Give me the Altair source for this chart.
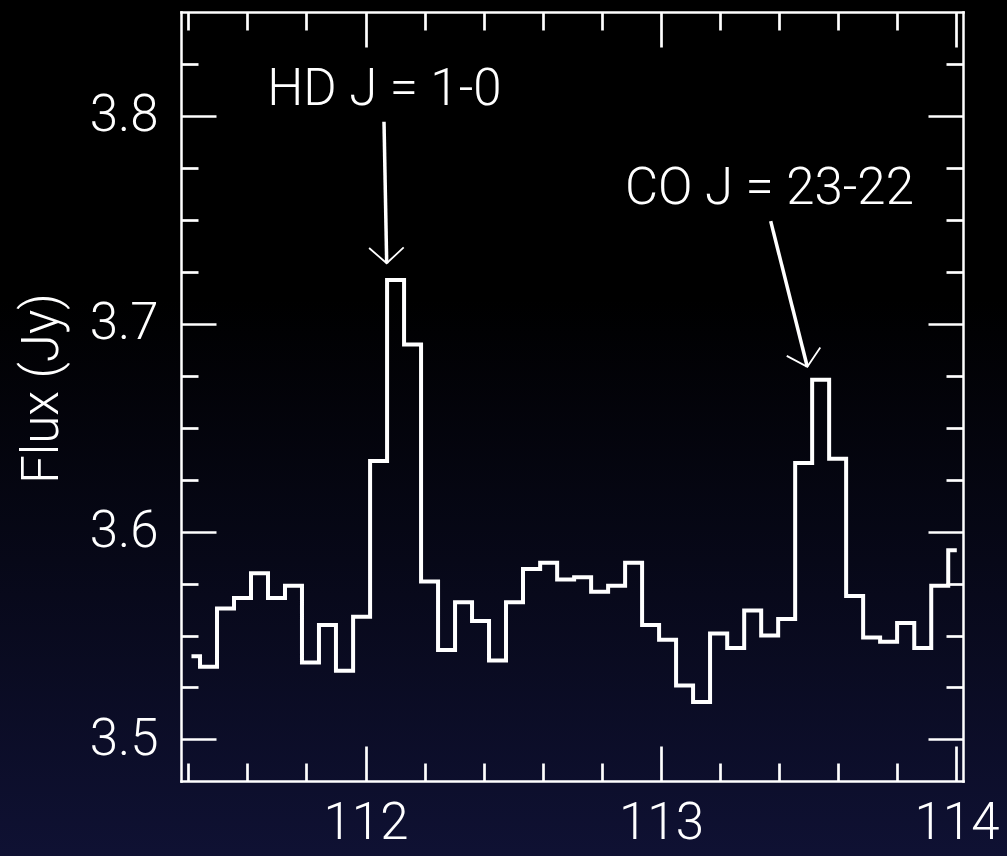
import altair as alt
import pandas as pd

# Spectrum: bin-centre wavelength (micron) and flux density (Jy)
wavelength = [
    111.411, 111.469, 111.526, 111.584, 111.641, 111.699, 111.756, 111.814,
    111.871, 111.929, 111.987, 112.044, 112.102, 112.159, 112.217, 112.274,
    112.332, 112.389, 112.447, 112.504, 112.562, 112.620, 112.677, 112.735,
    112.792, 112.850, 112.907, 112.965, 113.022, 113.080, 113.137, 113.195,
    113.253, 113.310, 113.368, 113.425, 113.483, 113.540, 113.598, 113.655,
    113.713, 113.770, 113.828, 113.886, 113.943, 114.001,
]
flux = [
    3.540, 3.535, 3.563, 3.568, 3.580, 3.568, 3.574, 3.537,
    3.555, 3.533, 3.559, 3.634, 3.721, 3.690, 3.576, 3.543,
    3.566, 3.557, 3.538, 3.566, 3.582, 3.585, 3.577, 3.578,
    3.571, 3.574, 3.585, 3.555, 3.548, 3.526, 3.518, 3.551,
    3.544, 3.562, 3.550, 3.558, 3.633, 3.673, 3.635, 3.569,
    3.549, 3.547, 3.556, 3.544, 3.574, 3.591,
]

# Line identifications with arrows
line_labels = ["HD J = 1-0", "CO J = 23-22"]
label_wl = [112.064, 113.367]
label_flux = [3.8052, 3.7575]
tail_wl = [112.0626, 113.3712]
tail_flux = [3.7972, 3.7494]
tip_wl = [112.0717, 113.4951]
tip_flux = [3.7291, 3.6793]
head_angle = [358.9, 345.9]

x_ticks = [111.4, 111.6, 111.8, 112.0, 112.2, 112.4, 112.6, 112.8, 113.0,
           113.2, 113.4, 113.6, 113.8, 114.0]
y_ticks = [3.5, 3.525, 3.55, 3.575, 3.6, 3.625, 3.65, 3.675, 3.7, 3.725,
           3.75, 3.775, 3.8, 3.825]
x_labels = [112, 113, 114]
y_labels = [3.5, 3.6, 3.7, 3.8]

W, H = 782, 769
PAD = {"left": 181, "top": 12, "right": 44, "bottom": 75}
FONT = "Roboto"
FW = 300
FS = 51

spec = pd.DataFrame({"wavelength": wavelength, "flux": flux})
notes = pd.DataFrame({
    "label": line_labels, "lx": label_wl, "ly": label_flux,
    "tx": tail_wl, "ty": tail_flux, "hx": tip_wl, "hy": tip_flux,
    "angle": head_angle,
})

xs = alt.Scale(domain=[111.3756, 114.022], nice=False, zero=False)
ys = alt.Scale(domain=[3.48, 3.85], nice=False, zero=False)

x_major = {"condition": {"test": "abs(datum.value - round(datum.value)) < 0.001", "value": 35}, "value": 18}
y_major = {"condition": {"test": "abs(datum.value * 10 - round(datum.value * 10)) < 0.001", "value": 35}, "value": 17}

frame = dict(domainColor="white", domainWidth=2.5, domainCap="square",
             tickColor="white", tickWidth=2.7, labels=False, title=None,
             grid=False, zindex=2)

# frame sides: ticks point inward from each edge
x_frame_bottom = alt.Axis(orient="top", offset=-H, values=x_ticks, tickSize=x_major, **frame)
x_frame_top = alt.Axis(orient="bottom", offset=-H, values=x_ticks, tickSize=x_major, **frame)
y_frame_left = alt.Axis(orient="right", offset=-W, values=y_ticks, tickSize=y_major, **frame)
y_frame_right = alt.Axis(orient="left", offset=-W, values=y_ticks, tickSize=y_major, **frame)

x_label_axis = alt.Axis(orient="bottom", values=x_labels, format="d", ticks=False,
                        domain=False, grid=False, labelPadding=17, labelColor="white",
                        labelFont=FONT, labelFontWeight=FW, labelFontSize=FS,
                        labelFlush=False, labelOverlap=False, labelBound=False,
                        title=None, zindex=2)
y_label_axis = alt.Axis(orient="left", values=y_labels, format=".1f", ticks=False,
                        domain=False, grid=False, labelPadding=23, labelColor="white",
                        labelFont=FONT, labelFontWeight=FW, labelFontSize=FS,
                        labelOverlap=False, labelBound=False,
                        title="Flux (Jy)", titleColor="white", titleFont=FONT,
                        titleFontWeight=FW, titleFontSize=FS, titleAngle=270,
                        titleX=-124, titleY=376, titleAlign="center",
                        titleBaseline="alphabetic", zindex=2)

backdrop = alt.Chart(alt.Data(values=[{}])).mark_rect(
    color={"gradient": "linear", "x1": 0, "y1": 0, "x2": 0, "y2": 1,
           "stops": [{"offset": 0, "color": "#000000"},
                     {"offset": 0.35, "color": "#000000"},
                     {"offset": 1, "color": "#0f1133"}]}
).encode(
    x=alt.value(-PAD["left"]), x2=alt.value(W + PAD["right"]),
    y=alt.value(-PAD["top"]), y2=alt.value(H + PAD["bottom"]),
)

spectrum = alt.Chart(spec).mark_line(
    interpolate="step", color="white", strokeWidth=4, strokeJoin="miter"
).encode(
    x=alt.X("wavelength:Q", scale=xs, axis=x_label_axis),
    y=alt.Y("flux:Q", scale=ys, axis=y_label_axis),
)

texts = alt.Chart(notes).mark_text(
    font=FONT, fontWeight=FW, fontSize=FS, color="white",
    align="center", baseline="alphabetic"
).encode(
    x=alt.X("lx:Q", scale=xs, axis=x_frame_bottom),
    y=alt.Y("ly:Q", scale=ys, axis=y_frame_left),
    text="label:N",
)

shafts = alt.Chart(notes).mark_rule(color="white", strokeWidth=3.5).encode(
    x=alt.X("tx:Q", scale=xs, axis=x_frame_top),
    y=alt.Y("ty:Q", scale=ys, axis=y_frame_right),
    x2="hx:Q", y2="hy:Q",
)

heads = alt.Chart(notes).mark_point(
    shape="M-1,-0.9L0,0L1,-0.9", size=1197, filled=False,
    stroke="white", strokeWidth=1.8, opacity=1
).encode(
    x=alt.X("hx:Q", scale=xs, axis=None),
    y=alt.Y("hy:Q", scale=ys, axis=None),
    angle=alt.Angle("angle:Q", scale=None),
)

chart = alt.layer(backdrop, spectrum, texts, shafts, heads).resolve_axis(
    x="independent", y="independent"
).properties(
    width=W, height=H, padding=PAD,
    autosize=alt.AutoSizeParams(type="none"),
    background="#000000",
).configure_view(stroke=None)

chart.save("out.html", embed_options={"renderer": "svg", "actions": False})
